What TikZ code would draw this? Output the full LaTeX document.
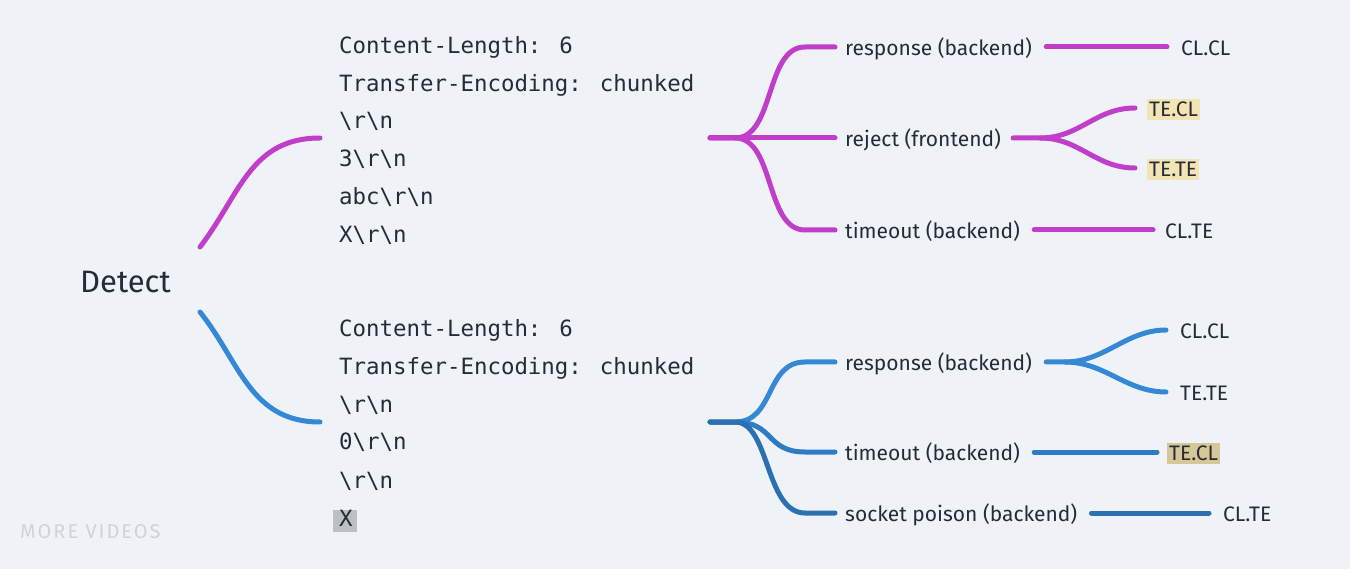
\documentclass[tikz,border=0pt]{standalone}
\usepackage{fontspec}
\setmainfont{Fira Sans}
\newfontfamily\monof{DejaVu Sans Mono}
\usetikzlibrary{calc}
\definecolor{bgc}{HTML}{EFF3F8}
\definecolor{txt}{HTML}{252C35}
\definecolor{purp}{RGB}{192,62,202}
\definecolor{blu}{RGB}{52,136,214}
\definecolor{bluD}{RGB}{44,112,178}
\definecolor{bluM}{RGB}{47,124,198}
\definecolor{hly}{HTML}{F3E5B3}
\definecolor{hld}{HTML}{D5C797}
\definecolor{hlg}{HTML}{BCC0C4}
\tikzset{
  lbl/.style={anchor=mid west, inner sep=0pt, text=txt, font=\fontsize{21}{24}\selectfont},
  code/.style={anchor=mid west, inner sep=0pt, text=txt, font=\monof\fontsize{22.4}{24}\selectfont},
  br/.style={line width=5pt, line cap=round},
  hlbox/.style={inner xsep=2pt, inner ysep=3pt},
}
\begin{document}
\begin{tikzpicture}[x=1pt,y=-1pt]
\fill[bgc] (0,0) rectangle (1350,569);
\useasboundingbox (0,0) rectangle (1350,569);

% root
\node[anchor=mid west, inner sep=0pt, text=txt, font=\fontsize{31}{34}\selectfont] (detect) at (80,290) {Detect};
\coordinate (s1) at (200,247);
\coordinate (s2) at (200,312);
\coordinate (h1) at (710,138);
\coordinate (h2) at (710,422);

% code blocks
\node[code] (a1) at (339,51) {Content-Length: 6};
\node[code] (a2) at (339,89) {Transfer-Encoding: chunked};
\node[code] (a3) at (339,126) {\textbackslash r\textbackslash n};
\node[code] (a4) at (339,164) {3\textbackslash r\textbackslash n};
\node[code] (a5) at (339,202) {abc\textbackslash r\textbackslash n};
\node[code] (a6) at (339,240) {X\textbackslash r\textbackslash n};

\node[code] (b1) at (339,334) {Content-Length: 6};
\node[code] (b2) at (339,372) {Transfer-Encoding: chunked};
\node[code] (b3) at (339,410) {\textbackslash r\textbackslash n};
\node[code] (b4) at (339,447) {0\textbackslash r\textbackslash n};
\node[code] (b5) at (339,486) {\textbackslash r\textbackslash n};
\fill[hlg] (333,510) rectangle (357,532);
\node[code] (b6) at (339,524) {X};

% left curves
\draw[br, purp] (s1) .. controls (240,195) and (250,138) .. (320,138);
\draw[br, blu] (s2) .. controls (240,362) and (250,422) .. (320,422);

% top right labels
\node[lbl] (r1) at (845,53) {response (backend)};
\node[lbl] (r2) at (845,144) {reject (frontend)};
\node[lbl] (r3) at (845,236) {timeout (backend)};
\node[lbl] (c1) at (1181,53) {CL.CL};
\node[lbl, fill=hly, hlbox] (c2) at (1147,114) {TE.CL};
\node[lbl, fill=hly, hlbox] (c3) at (1147,174) {TE.TE};
\node[lbl] (c4) at (1165,236) {CL.TE};

\draw[br, purp] (h1) -- ++(25,0) .. controls +(40,0) and +(-40,0) .. ($(r1.mid west)+(-40,-6)$) -- ($(r1.mid west)+(-10,-6)$);
\draw[br, purp] (h1) -- ($(r2.mid west)+(-10,-6)$);
\draw[br, purp] (h1) -- ++(25,0) .. controls +(40,0) and +(-40,0) .. ($(r3.mid west)+(-40,-6)$) -- ($(r3.mid west)+(-10,-6)$);
\draw[br, purp] ($(r1.mid east)+(14,-6)$) -- ($(c1.mid west)+(-14,-6)$);
\coordinate (h3) at (1040,138);
\draw[br, purp] ($(r2.mid east)+(12,-6)$) -- (h3) .. controls +(40,0) and +(-40,0) .. ($(c2.mid west)+(-12,-6)$);
\draw[br, purp] (h3) .. controls +(40,0) and +(-40,0) .. ($(c3.mid west)+(-12,-6)$);
\draw[br, purp] ($(r3.mid east)+(14,-6)$) -- ($(c4.mid west)+(-12,-6)$);

% bottom right labels
\node[lbl] (q1) at (845,368) {response (backend)};
\node[lbl] (q2) at (845,458) {timeout (backend)};
\node[lbl] (q3) at (845,519) {socket poison (backend)};
\node[lbl] (d1) at (1180,336) {CL.CL};
\node[lbl] (d2) at (1180,398) {TE.TE};
\node[lbl, fill=hld, hlbox] (d3) at (1167,458) {TE.CL};
\node[lbl] (d4) at (1223,519) {CL.TE};

\draw[br, blu] (h2) -- ++(25,0) .. controls +(40,0) and +(-40,0) .. ($(q1.mid west)+(-40,-6)$) -- ($(q1.mid west)+(-10,-6)$);
\draw[br, bluM] (h2) -- ++(25,0) .. controls +(40,0) and +(-40,0) .. ($(q2.mid west)+(-40,-6)$) -- ($(q2.mid west)+(-10,-6)$);
\draw[br, bluD] (h2) -- ++(25,0) .. controls +(35,0) and +(-40,0) .. ($(q3.mid west)+(-40,-6)$) -- ($(q3.mid west)+(-10,-6)$);
\coordinate (h4) at (1065,362);
\draw[br, blu] ($(q1.mid east)+(14,-6)$) -- (h4) .. controls +(40,0) and +(-40,0) .. ($(d1.mid west)+(-14,-6)$);
\draw[br, blu] (h4) .. controls +(40,0) and +(-40,0) .. ($(d2.mid west)+(-14,-6)$);
\draw[br, bluM] ($(q2.mid east)+(14,-6)$) -- ($(d3.mid west)+(-10,-6)$);
\draw[br, bluD] ($(q3.mid east)+(14,-6)$) -- ($(d4.mid west)+(-14,-6)$);

% faint overlay
\draw[gray!10, line width=0.6pt, rounded corners=4pt] (5,506) rectangle (186,555);
\node[anchor=mid west, inner sep=0pt, text=gray!35, font=\fontsize{20}{22}\selectfont\addfontfeature{LetterSpace=10}] (mv) at (20,536) {MORE VIDEOS};
\end{tikzpicture}
\end{document}
